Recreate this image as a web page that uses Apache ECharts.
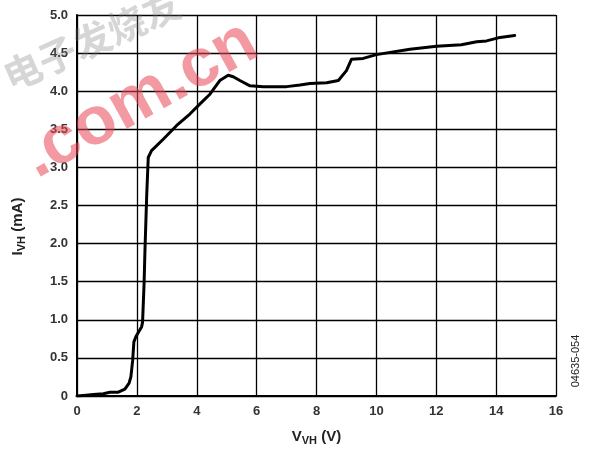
<!DOCTYPE html>
<html>
<head>
<meta charset="utf-8">
<script src="https://cdn.jsdelivr.net/npm/echarts@6/dist/echarts.min.js"></script>
<style>
  html, body { margin: 0; padding: 0; background: #fff; }
  #chart { width: 589px; height: 452px; }
</style>
</head>
<body>
<div id="chart"></div>
<script>
// ========== 数据 ==========
const vvh = [0, 0.3, 0.55, 0.88, 1.1, 1.38, 1.6, 1.74, 1.8, 1.86, 1.9, 1.97, 2.16, 2.19, 2.24, 2.27, 2.33, 2.38, 2.49, 2.88,
  3.33, 3.77, 4.1, 4.44, 4.77, 5.05, 5.22, 5.44, 5.78, 6.22, 7.0, 7.45, 7.78, 8.34, 8.73, 9.0, 9.17, 9.56, 10.0,
  11.12, 12.01, 12.84, 13.35, 13.68, 14.07, 14.62];
const ivh = [0, 0.01, 0.02, 0.03, 0.05, 0.05, 0.09, 0.17, 0.25, 0.47, 0.71, 0.78, 0.91, 0.97, 1.47, 1.91, 2.65, 3.13, 3.22, 3.37,
  3.55, 3.70, 3.83, 3.96, 4.14, 4.21, 4.19, 4.14, 4.07, 4.06, 4.06, 4.08, 4.10, 4.11, 4.14, 4.27, 4.42, 4.43, 4.48,
  4.55, 4.59, 4.61, 4.65, 4.66, 4.70, 4.73];
const xTicks = [0, 2, 4, 6, 8, 10, 12, 14, 16];
const yTicks = [0, 0.5, 1.0, 1.5, 2.0, 2.5, 3.0, 3.5, 4.0, 4.5, 5.0];

const FONT = 'Liberation Sans, Arial, sans-serif';
const chart = echarts.init(document.getElementById('chart'), null, { renderer: 'canvas' });

const labelStyle = { color: '#333', fontFamily: FONT, fontWeight: 'bold', fontSize: 13 };
const splitStyle = { show: true, lineStyle: { color: '#000', width: 1.3 } };
const nameRich = {
  a: { fontFamily: FONT, fontWeight: 'bold', fontSize: 15, color: '#222' },
  s: { fontFamily: FONT, fontWeight: 'bold', fontSize: 11, color: '#222', padding: [8, 0, 0, 0] }
};

chart.setOption({
  animation: false,
  backgroundColor: '#fff',
  grid: { left: 77, right: 33, top: 15, bottom: 56 },
  xAxis: {
    type: 'value', min: xTicks[0], max: xTicks[xTicks.length - 1], interval: 2,
    axisLine: { lineStyle: { color: '#000', width: 2 } },
    axisTick: { show: false },
    axisLabel: Object.assign({ margin: 9 }, labelStyle),
    splitLine: splitStyle,
    name: '{a|V}{s|VH}{a| (V)}',
    nameLocation: 'middle', nameGap: 31,
    nameTextStyle: { rich: nameRich }
  },
  yAxis: {
    type: 'value', min: yTicks[0], max: yTicks[yTicks.length - 1], interval: 0.5,
    axisLine: { show: true, lineStyle: { color: '#000', width: 2 } },
    axisTick: { show: false },
    axisLabel: Object.assign({ margin: 9, formatter: v => v === 0 ? '0' : v.toFixed(1) }, labelStyle),
    splitLine: splitStyle,
    name: '{a|I}{s|VH}{a| (mA)}',
    nameLocation: 'middle', nameGap: 50,
    nameTextStyle: { padding: [0, 42, 0, 0], rich: nameRich }
  },
  series: [{
    type: 'line',
    data: vvh.map((x, i) => [x, ivh[i]]),
    showSymbol: false,
    lineStyle: { color: '#000', width: 3, join: 'round', cap: 'round' },
    z: 5
  }],
  graphic: [
    // 右侧编号
    { type: 'text', x: 576, y: 361, rotation: Math.PI / 2, z: 10,
      style: { text: '04635-054', font: '11px ' + FONT, fill: '#222', align: 'center', verticalAlign: 'middle' } },
    // 水印
    { type: 'text', x: 92, y: 40, rotation: 24 * Math.PI / 180, z: 20,
      style: { text: '电子发烧友', font: 'bold 38px "Noto Sans CJK SC"', fill: 'rgba(120,120,120,0.3)', align: 'center', verticalAlign: 'middle' } },
    { type: 'text', x: 140, y: 100, rotation: 29 * Math.PI / 180, z: 20,
      style: { text: '.com.cn', font: 'bold 68px ' + FONT, fill: 'rgba(232,70,85,0.55)', align: 'center', verticalAlign: 'middle' } }
  ]
});
</script>
</body>
</html>
